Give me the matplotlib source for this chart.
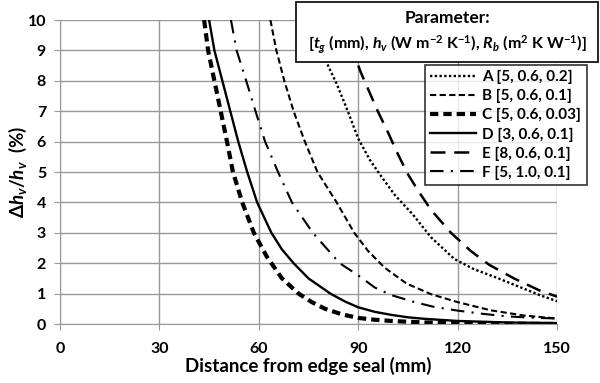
import matplotlib
matplotlib.use("Agg")
import matplotlib.pyplot as plt
from matplotlib.patches import Rectangle

plt.rcParams['font.family'] = ['Lato', 'DejaVu Sans']
plt.rcParams['font.weight'] = 'bold'
plt.rcParams['mathtext.fontset'] = 'custom'
plt.rcParams['mathtext.rm'] = 'Lato:bold'
plt.rcParams['mathtext.it'] = 'Lato:bold:italic'
plt.rcParams['mathtext.bf'] = 'Lato:bold'

# кривые
a_x = [76, 78, 80.6, 83.5, 86.5, 90, 93.5, 97, 101, 106.5, 112, 119, 125, 131.4, 138, 144.8, 150]
a_y = [10, 9.3, 8.57, 7.9, 7.1, 6.1, 5.4, 4.85, 4.25, 3.6, 2.85, 2.14, 1.8, 1.54, 1.25, 0.95, 0.75]

b_x = [63.5, 65.3, 67.7, 70.5, 73.9, 77.7, 83.5, 88.8, 93, 98, 104.6, 112, 120, 130, 140, 150]
b_y = [10, 9, 8, 7, 6, 5, 4, 3, 2.4, 1.85, 1.33, 0.98, 0.72, 0.45, 0.28, 0.18]

c_x = [43.5, 44.7, 46.6, 48.5, 50.4, 52.2, 55, 58.5, 62.5, 67, 72, 76, 80, 85, 90, 95, 100, 110, 120, 135, 150]
c_y = [10, 9, 8, 7, 6, 5, 4, 3, 2.2, 1.5, 1.0, 0.72, 0.5, 0.32, 0.2, 0.14, 0.1, 0.05, 0.03, 0.01, 0.0]

d_x = [45, 46.6, 49, 51.4, 53.8, 56.5, 59.5, 63.8, 67, 70.5, 75, 81.6, 86, 90, 95, 100, 105, 110, 120, 135, 150]
d_y = [10, 9, 8, 7, 6, 5, 4, 3, 2.45, 2, 1.5, 1, 0.74, 0.55, 0.4, 0.3, 0.22, 0.17, 0.1, 0.05, 0.03]

e_x = [86, 88, 90.7, 93.1, 95.9, 98.8, 101.5, 104.6, 108, 112, 118, 124, 129.5, 137, 144.8, 150]
e_y = [10, 9.1, 8.3, 7.7, 7.0, 6.35, 5.7, 5.0, 4.4, 3.75, 3.0, 2.4, 1.95, 1.5, 1.1, 0.9]

f_x = [51.6, 53.3, 56.2, 59, 61.9, 65.8, 70, 76.3, 84.4, 90, 95, 100, 107, 113, 120, 128, 135, 142, 150]
f_y = [10, 9, 8, 7, 6, 5, 4, 3, 2, 1.6, 1.2, 0.95, 0.72, 0.56, 0.44, 0.33, 0.25, 0.21, 0.18]

labels = ['A [5, 0.6, 0.2]', 'B [5, 0.6, 0.1]', 'C [5, 0.6, 0.03]',
          'D [3, 0.6, 0.1]', 'E [8, 0.6, 0.1]', 'F [5, 1.0, 0.1]']

fig = plt.figure(figsize=(6, 3.83), dpi=100)
ax = fig.add_axes([60/600, 1-324/383, 497/600, 304/383])

ax.plot(a_x, a_y, color='black', lw=1.7, linestyle=(0, (1, 1)), label=labels[0])
ax.plot(b_x, b_y, color='black', lw=1.5, linestyle=(0, (3, 1.6)), label=labels[1])
ax.plot(c_x, c_y, color='black', lw=3.0, linestyle=(0, (2, 1.2)), label=labels[2])
ax.plot(d_x, d_y, color='black', lw=1.7, linestyle='-', label=labels[3])
ax.plot(e_x, e_y, color='black', lw=1.8, linestyle=(0, (6, 3.5)), label=labels[4])
ax.plot(f_x, f_y, color='black', lw=1.5, linestyle=(0, (6.5, 3.5, 1, 3.5)), label=labels[5])

ax.set_xlim(0, 150)
ax.set_ylim(0, 10)
ax.set_xticks(range(0, 151, 30))
ax.set_yticks(range(0, 11))
ax.grid(True, color='#999999', lw=1)
ax.set_axisbelow(True)
for s in ['top', 'right']:
    ax.spines[s].set_visible(False)
for s in ['left', 'bottom']:
    ax.spines[s].set_color('#999999')
ax.tick_params(direction='out', length=4, color='#999999', labelsize=11.5)
ax.tick_params(axis='x', pad=9)
ax.tick_params(axis='y', pad=6)
for t in ax.get_xticklabels() + ax.get_yticklabels():
    t.set_fontweight('bold')

ax.set_xlabel('Distance from edge seal (mm)', fontsize=13.5, fontweight='bold')
ax.set_ylabel(r'$\Delta h_v/h_v$  (%)', fontsize=13.5, fontweight='bold')
ax.xaxis.set_label_coords(0.5, -0.108)
ax.yaxis.set_label_coords(-0.062, 0.5)

# блок с параметрами
fig.patches.append(Rectangle((296/600, 1-62/383), 302/600, 60/383,
                             transform=fig.transFigure, facecolor='white',
                             edgecolor='black', lw=1.2, zorder=5))
fig.text(447/600, 1-18/383, 'Parameter:', ha='center', va='center',
         fontsize=12.5, fontweight='bold', zorder=6)
fig.text(447/600, 1-45/383,
         r'[$t_g$ (mm), $h_v$ (W m$^{-2}$ K$^{-1}$), $R_b$ (m$^2$ K W$^{-1}$)]',
         ha='center', va='center', fontsize=11.5, fontweight='bold', zorder=6)

leg = fig.legend(loc='upper left', bbox_to_anchor=(425/600, 1-65/383),
                 fontsize=11, frameon=True, fancybox=False, edgecolor='black',
                 handlelength=3.0, borderpad=0.35, labelspacing=0.32,
                 handletextpad=0.4, borderaxespad=0)
leg.get_frame().set_linewidth(1.2)
for t in leg.get_texts():
    t.set_fontweight('bold')

fig.savefig('out.png', dpi=100)
